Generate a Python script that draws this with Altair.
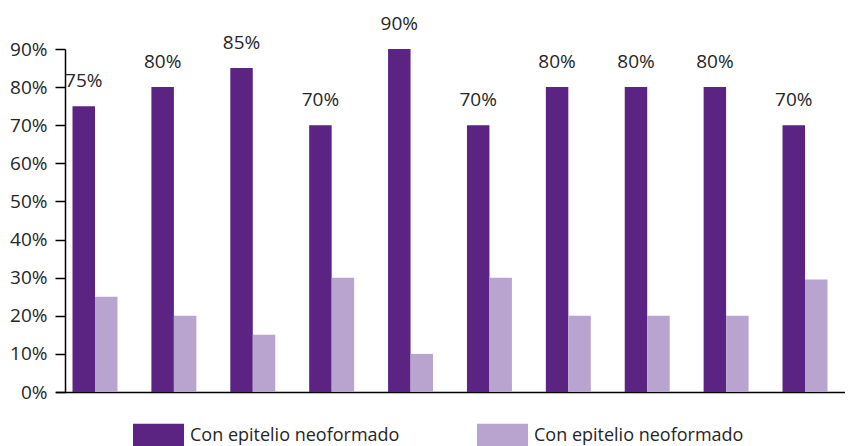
import altair as alt
import pandas as pd

groups = [str(i) for i in range(1, 11)]
dark_values = [0.75, 0.80, 0.85, 0.70, 0.90, 0.70, 0.80, 0.80, 0.80, 0.70]
light_values = [0.25, 0.20, 0.15, 0.30, 0.10, 0.30, 0.20, 0.20, 0.20, 0.295]
series_keys = ["A", "B"]
legend_label = "Con epitelio neoformado"
y_ticks = [0, 0.1, 0.2, 0.3, 0.4, 0.5, 0.6, 0.7, 0.8, 0.9]
colors = ["#5b2483", "#b8a4ce"]

rows = []
for g, d, l in zip(groups, dark_values, light_values):
    rows.append({"group": g, "series": "A", "value": d})
    rows.append({"group": g, "series": "B", "value": l})
df = pd.DataFrame(rows)

FONT = "Open Sans"

x_enc = alt.X(
    "group:N",
    sort=groups,
    scale=alt.Scale(range=[-9.45, 779.45], paddingInner=0.43, paddingOuter=0.215),
    axis=alt.Axis(title=None, labels=False, ticks=False, domain=True,
                  domainColor="#000000", domainWidth=1.5),
)
y_enc = alt.Y(
    "value:Q",
    scale=alt.Scale(domain=[0, 0.9], nice=False),
    axis=alt.Axis(title=None, values=y_ticks, format=".0%", grid=False,
                  labelOverlap=False, tickCount=10,
                  domainColor="#000000", domainWidth=1.5,
                  tickColor="#000000", tickWidth=1.5, tickSize=10,
                  labelPadding=8, labelFont=FONT, labelFontSize=19,
                  labelColor="#262626"),
)
xoff_enc = alt.XOffset("series:N", scale=alt.Scale(paddingInner=0, paddingOuter=0))

bars = alt.Chart(df).mark_bar().encode(
    x=x_enc,
    y=y_enc,
    xOffset=xoff_enc,
    color=alt.Color(
        "series:N",
        scale=alt.Scale(domain=series_keys, range=colors),
        legend=alt.Legend(
            title=None, orient="none", direction="horizontal",
            legendX=68, legendY=361, padding=0,
            symbolType="M-1,-0.47H1V0.47H-1Z", symbolSize=2601,
            symbolStrokeWidth=0, symbolOpacity=1,
            labelExpr="'" + legend_label + "'",
            labelFont=FONT, labelFontSize=18, labelColor="#262626",
            labelOffset=6, columnPadding=77, labelLimit=400,
        ),
    ),
)

labels = alt.Chart(df).transform_filter(alt.datum.series == "A").mark_text(
    baseline="alphabetic", dy=-19, font=FONT, fontSize=19, color="#262626"
).encode(
    x=x_enc,
    y=y_enc,
    xOffset=xoff_enc,
    text=alt.Text("value:Q", format=".0%"),
)

chart = alt.layer(bars, labels).properties(
    width=780,
    height=343,
    autosize=alt.AutoSizeParams(type="none"),
    padding={"left": 57, "top": 41, "right": 0, "bottom": 62},
).configure_view(stroke=None)

chart.save("out.html", embed_options={"renderer": "svg", "actions": False})
